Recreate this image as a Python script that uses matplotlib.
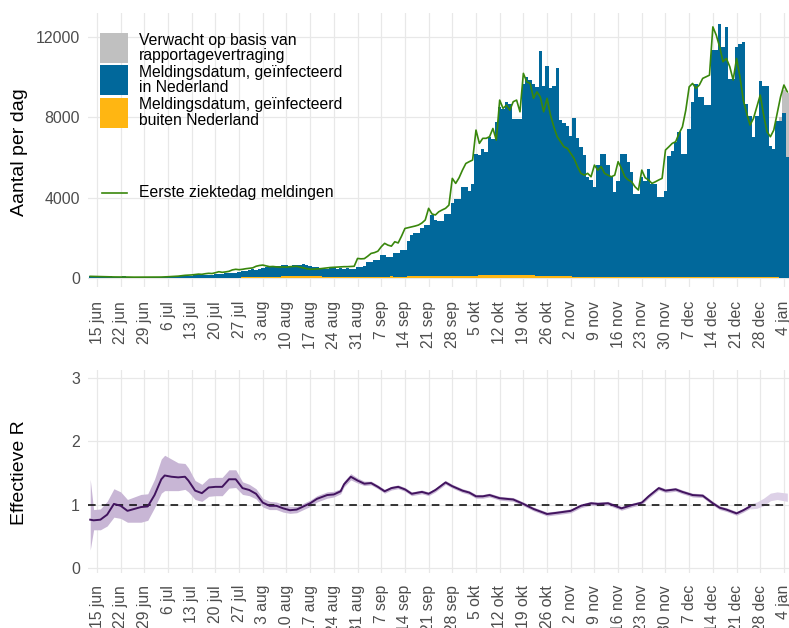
import numpy as np
import matplotlib
matplotlib.use("Agg")
import matplotlib.pyplot as plt
import matplotlib.dates as mdates
from matplotlib.patches import Rectangle
from matplotlib.lines import Line2D

plt.rcParams['font.family'] = ['Liberation Sans', 'DejaVu Sans']

# daily data, 13 jun 2020 .. 5 jan 2021 (rows = weeks starting monday)
dates = np.arange(np.datetime64('2020-06-13'), np.datetime64('2021-01-06'))

meld_nl = [95, 85,
    100, 110, 95, 90, 100, 85, 70,
    80, 90, 80, 85, 75, 70, 60,
    60, 70, 60, 55, 60, 50, 60,
    80, 90, 95, 100, 110, 100, 110,
    120, 130, 150, 140, 130, 150, 160,
    170, 200, 190, 210, 230, 220, 240,
    270, 300, 320, 350, 390, 380, 420,
    450, 470, 500, 520, 540, 520, 560,
    560, 520, 540, 560, 580, 600, 550,
    500, 470, 450, 430, 420, 400, 410,
    420, 400, 420, 410, 430, 400, 380,
    500, 500, 520, 745, 745, 830, 830,
    1075, 1075, 990, 990, 1160, 1160, 1320,
    1320, 1740, 2070, 2150, 2150, 2400, 2560,
    2560, 3060, 2810, 2730, 2730, 3060, 3060,
    3640, 3810, 3810, 4390, 4390, 4220, 4550,
    6040, 6000, 6290, 6130, 6870, 6790, 7620,
    8360, 8280, 8610, 8530, 7780, 7780, 7780,
    9520, 9860, 9690, 9520, 9360, 11180, 9440,
    10440, 9360, 9440, 10350, 7780, 7600, 7450,
    6960, 7870, 6870, 6460, 6040, 4970, 4800,
    4470, 5550, 6130, 6130, 5550, 4980, 4220,
    4800, 6130, 6130, 5720, 5220, 4140, 4140,
    4980, 4800, 5380, 4640, 4640, 3990, 3990,
    4300, 6040, 6290, 6710, 7220, 6130, 6130,
    7370, 8710, 9610, 8950, 8950, 8530, 8530,
    11260, 11260, 12590, 11430, 12420, 9860, 9860,
    11430, 11600, 11680, 8610, 8030, 6970, 8030,
    9770, 9520, 9520, 6540, 6380, 7780, 7780,
    8200, 6000]

meld_buiten = [5, 5,
    5, 6, 5, 4, 6, 5, 4,
    5, 6, 5, 6, 5, 4, 4,
    6, 8, 7, 8, 9, 8, 7,
    10, 12, 14, 13, 15, 14, 12,
    16, 18, 20, 22, 20, 24, 22,
    26, 30, 32, 35, 34, 38, 36,
    40, 45, 50, 55, 60, 58, 62,
    70, 75, 80, 85, 90, 88, 92,
    95, 100, 105, 110, 108, 104, 100,
    100, 98, 95, 92, 90, 88, 85,
    85, 82, 80, 78, 80, 75, 72,
    72, 70, 75, 78, 80, 82, 85,
    85, 88, 90, 92, 90, 88, 90,
    90, 92, 95, 98, 100, 102, 105,
    105, 108, 110, 112, 115, 118, 120,
    120, 125, 128, 130, 132, 135, 138,
    140, 142, 145, 148, 150, 152, 155,
    155, 158, 160, 158, 155, 152, 150,
    150, 148, 145, 142, 140, 138, 135,
    130, 125, 120, 115, 110, 105, 100,
    95, 90, 88, 85, 82, 80, 78,
    75, 72, 70, 68, 66, 65, 64,
    62, 60, 58, 56, 55, 54, 52,
    50, 50, 48, 48, 47, 46, 45,
    45, 46, 48, 50, 52, 54, 55,
    56, 58, 60, 62, 63, 64, 65,
    66, 68, 70, 72, 70, 68, 66,
    64, 62, 60, 58, 56, 55, 54,
    52, 50, 48, 46, 45, 44, 42,
    40, 38]

verwacht = [0] * 204 + [200, 1100, 3200]

eerste_ziektedag = [100, 95,
    90, 85, 80, 80, 75, 70, 70,
    70, 65, 65, 60, 60, 60, 60,
    60, 60, 55, 60, 60, 65, 70,
    80, 90, 100, 110, 130, 150, 160,
    170, 190, 210, 200, 230, 250, 240,
    280, 330, 300, 320, 350, 420, 450,
    430, 450, 480, 500, 520, 600, 640,
    660, 620, 580, 590, 570, 560, 570,
    560, 580, 590, 600, 560, 520, 480,
    450, 460, 470, 480, 500, 520, 540,
    550, 560, 570, 580, 580, 590, 600,
    990, 970, 980, 1100, 1240, 1280, 1350,
    1570, 1740, 1650, 1600, 1820, 1760, 2100,
    2480, 2520, 2560, 2600, 2650, 2750, 2900,
    3480, 3200, 3150, 3310, 3400, 3480, 3640,
    4970, 4720, 5000, 5380, 5710, 5800, 5880,
    7370, 6710, 6960, 6960, 7040, 7450, 6870,
    8860, 8450, 8610, 8360, 8780, 8860, 8280,
    10190, 9770, 9690, 8950, 9270, 9020, 8280,
    8950, 8120, 7530, 7040, 6790, 6540, 6460,
    6210, 5960, 5550, 5220, 5130, 5220, 5050,
    5630, 5380, 5550, 5220, 5130, 5050, 5130,
    5800, 5460, 5050, 4890, 4800, 4550, 4390,
    5380, 5000, 4890, 4720, 4800, 4890, 4970,
    6380, 6540, 6710, 6790, 7200, 7530, 8360,
    9520, 9690, 9440, 9610, 9940, 10020, 10100,
    12500, 12090, 11510, 10770, 10930, 10520, 9860,
    10930, 10020, 8860, 8200, 7620, 7950, 8530,
    9110, 8120, 7290, 7040, 7370, 8200, 9020,
    9610, 9270]

# effective R (read at sample dates)
r_dates = ['2020-06-13', '2020-06-14', '2020-06-16', '2020-06-18', '2020-06-20',
           '2020-06-22', '2020-06-24', '2020-06-26', '2020-06-28', '2020-06-30',
           '2020-07-02', '2020-07-04', '2020-07-05', '2020-07-07', '2020-07-09',
           '2020-07-11', '2020-07-12', '2020-07-14', '2020-07-16', '2020-07-18',
           '2020-07-20', '2020-07-22', '2020-07-24', '2020-07-26', '2020-07-28',
           '2020-07-30', '2020-08-01', '2020-08-03', '2020-08-05', '2020-08-07',
           '2020-08-09', '2020-08-11', '2020-08-13', '2020-08-15', '2020-08-17',
           '2020-08-19', '2020-08-22', '2020-08-24', '2020-08-26', '2020-08-27',
           '2020-08-29', '2020-08-31', '2020-09-02', '2020-09-04', '2020-09-06',
           '2020-09-08', '2020-09-10', '2020-09-12', '2020-09-14', '2020-09-16',
           '2020-09-19', '2020-09-21', '2020-09-23', '2020-09-26', '2020-09-28',
           '2020-10-01', '2020-10-03', '2020-10-05', '2020-10-07', '2020-10-09',
           '2020-10-12', '2020-10-16', '2020-10-19', '2020-10-22', '2020-10-26',
           '2020-10-29', '2020-11-02', '2020-11-05', '2020-11-08', '2020-11-10',
           '2020-11-13', '2020-11-17', '2020-11-20', '2020-11-23', '2020-11-25',
           '2020-11-28', '2020-11-30', '2020-12-03', '2020-12-05', '2020-12-08',
           '2020-12-11', '2020-12-14', '2020-12-16', '2020-12-18', '2020-12-21',
           '2020-12-23', '2020-12-25']
r_mid = [0.76, 0.75, 0.76, 0.84, 1.01, 0.98, 0.90, 0.93, 0.96, 0.97,
         1.15, 1.40, 1.46, 1.44, 1.43, 1.44, 1.38, 1.22, 1.18, 1.27,
         1.28, 1.28, 1.40, 1.40, 1.26, 1.23, 1.17, 1.03, 0.98, 0.98,
         0.94, 0.91, 0.92, 0.97, 1.02, 1.09, 1.15, 1.16, 1.21, 1.32,
         1.44, 1.38, 1.33, 1.34, 1.28, 1.21, 1.26, 1.28, 1.24, 1.17,
         1.20, 1.17, 1.23, 1.35, 1.29, 1.22, 1.19, 1.13, 1.13, 1.15,
         1.10, 1.08, 1.01, 0.93, 0.85, 0.87, 0.90, 0.98, 1.02, 1.01,
         1.02, 0.94, 0.99, 1.03, 1.13, 1.26, 1.22, 1.24, 1.20, 1.15,
         1.14, 1.02, 0.95, 0.92, 0.86, 0.91, 0.97]
r_lo = [0.28, 0.60, 0.60, 0.66, 0.80, 0.78, 0.72, 0.72, 0.72, 0.75,
        0.95, 1.18, 1.22, 1.22, 1.22, 1.24, 1.20, 1.08, 1.05, 1.13,
        1.14, 1.14, 1.26, 1.27, 1.16, 1.14, 1.09, 0.96, 0.92, 0.92,
        0.88, 0.86, 0.87, 0.92, 0.97, 1.04, 1.10, 1.12, 1.17, 1.28,
        1.39, 1.34, 1.30, 1.31, 1.25, 1.18, 1.23, 1.25, 1.21, 1.14,
        1.17, 1.14, 1.20, 1.32, 1.26, 1.19, 1.16, 1.10, 1.10, 1.12,
        1.07, 1.05, 0.98, 0.90, 0.82, 0.84, 0.87, 0.95, 0.99, 0.98,
        0.99, 0.91, 0.96, 1.00, 1.10, 1.23, 1.19, 1.21, 1.17, 1.12,
        1.11, 0.99, 0.92, 0.89, 0.83, 0.88, 0.94]
r_hi = [1.40, 0.92, 0.93, 1.05, 1.25, 1.20, 1.08, 1.12, 1.16, 1.17,
        1.40, 1.72, 1.78, 1.72, 1.66, 1.65, 1.58, 1.38, 1.32, 1.42,
        1.43, 1.43, 1.55, 1.55, 1.36, 1.32, 1.25, 1.10, 1.05, 1.04,
        1.00, 0.97, 0.97, 1.02, 1.07, 1.14, 1.20, 1.21, 1.25, 1.37,
        1.49, 1.42, 1.37, 1.37, 1.31, 1.24, 1.29, 1.31, 1.27, 1.20,
        1.23, 1.20, 1.26, 1.38, 1.32, 1.25, 1.22, 1.16, 1.16, 1.18,
        1.13, 1.11, 1.04, 0.96, 0.88, 0.90, 0.93, 1.01, 1.05, 1.04,
        1.05, 0.97, 1.02, 1.06, 1.16, 1.29, 1.25, 1.27, 1.23, 1.18,
        1.17, 1.05, 0.98, 0.95, 0.89, 0.94, 1.00]

# last days: not yet reliable, band only
r_late_dates = ['2020-12-25', '2020-12-27', '2020-12-29', '2020-12-31', '2021-01-02', '2021-01-05']
r_late_lo = [0.93, 0.94, 0.98, 1.06, 1.08, 1.05]
r_late_hi = [1.01, 1.04, 1.10, 1.18, 1.20, 1.18]

tick_dates = np.arange(np.datetime64('2020-06-15'), np.datetime64('2021-01-05'), 7)
tick_labels = ['15 jun', '22 jun', '29 jun', '6 jul', '13 jul', '20 jul', '27 jul',
               '3 aug', '10 aug', '17 aug', '24 aug', '31 aug', '7 sep', '14 sep',
               '21 sep', '28 sep', '5 okt', '12 okt', '19 okt', '26 okt', '2 nov',
               '9 nov', '16 nov', '23 nov', '30 nov', '7 dec', '14 dec', '21 dec',
               '28 dec', '4 jan']

blue = '#01689b'
orange = '#ffb612'
grey = '#c0c0c0'
green = '#39870c'
purple = '#42145f'
gridc = '#e8e8e8'
W, H = 789, 628

fig = plt.figure(figsize=(W / 100, H / 100), dpi=100)
ax1 = fig.add_axes([88 / W, 1 - 287 / H, 1 - 88 / W, (287 - 13) / H])
ax2 = fig.add_axes([88 / W, 1 - 573 / H, 1 - 88 / W, (573 - 370) / H])

buiten = np.array(meld_buiten)
nl = np.array(meld_nl)
ax1.bar(dates, buiten, width=1.0, color=orange, lw=0, antialiased=False, zorder=2)
ax1.bar(dates, nl, width=1.0, bottom=buiten, color=blue, lw=0, antialiased=False, zorder=2)
ax1.bar(dates, verwacht, width=1.0, bottom=buiten + nl, color=grey, lw=0, antialiased=False, zorder=2)
ax1.plot(dates, eerste_ziektedag, color=green, lw=1.2, zorder=3)

rd = np.array(r_dates, dtype='datetime64[D]')
rld = np.array(r_late_dates, dtype='datetime64[D]')
ax2.fill_between(rd, r_lo, r_hi, color='#c8b6d5', lw=0, zorder=2)
ax2.fill_between(rld, r_late_lo, r_late_hi, color='#ddd1e7', lw=0, zorder=2)
ax2.axhline(1, color='black', lw=1.1, dashes=(5, 4), zorder=3)
ax2.plot(rd, r_mid, color=purple, lw=1.4, zorder=4)

x0 = mdates.date2num(np.datetime64('2020-06-15'))
for ax, pad in ((ax1, 10), (ax2, 8.6)):
    ax.set_xlim(x0 - 2.66, x0 + 204.5)
    ax.set_xticks(tick_dates)
    ax.set_xticklabels(tick_labels, rotation=90, ha='center', va='top')
    ax.tick_params(axis='x', length=0, pad=pad, labelsize=11.3, labelcolor='#4d4d4d')
    ax.tick_params(axis='y', length=0, pad=5.8, labelsize=11.4, labelcolor='#4d4d4d')
    ax.grid(True, color=gridc, lw=0.9)
    ax.set_axisbelow(True)
    for s in ax.spines.values():
        s.set_visible(False)

ax1.set_ylim(-430, 13190)
ax1.set_yticks([0, 4000, 8000, 12000])
ax2.set_ylim(-0.084, 3.13)
ax2.set_yticks([0, 1, 2, 3])

fig.text(20 / W, 1 - 152 / H, 'Aantal per dag', rotation=90, ha='center', va='center', fontsize=14)
fig.text(20 / W, 1 - 473 / H, 'Effectieve R', rotation=90, ha='center', va='center', fontsize=14)

# legend, drawn by hand in the top-left corner
keys = [(33, 63, grey, 'Verwacht op basis van\nrapportagevertraging'),
        (65, 95, blue, 'Meldingsdatum, geïnfecteerd\nin Nederland'),
        (97.5, 127.5, orange, 'Meldingsdatum, geïnfecteerd\nbuiten Nederland')]
for top, bot, col, lab in keys:
    fig.add_artist(Rectangle((100 / W, 1 - bot / H), 28 / W, (bot - top) / H,
                             transform=fig.transFigure, color=col, lw=0))
    fig.text(139 / W, 1 - (top + bot) / 2 / H, lab, ha='left', va='center',
             fontsize=11.3, linespacing=1.02)
fig.add_artist(Line2D([102 / W, 127 / W], [1 - 193 / H, 1 - 193 / H],
                      transform=fig.transFigure, color=green, lw=1.2))
fig.text(139 / W, 1 - 193 / H, 'Eerste ziektedag meldingen', ha='left', va='center', fontsize=11.3)

fig.savefig('out.png', dpi=100)
